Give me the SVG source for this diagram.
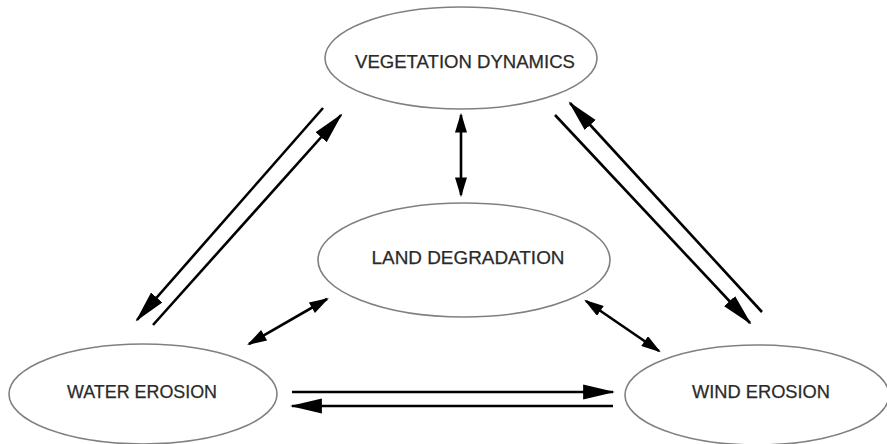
<svg xmlns="http://www.w3.org/2000/svg" width="887" height="444" viewBox="0 0 887 444">
<style>
.node ellipse{fill:#fff;stroke:#808080;stroke-width:1.6}
.node text{font-family:"Liberation Sans",Arial,sans-serif;font-size:18.5px;fill:#2a2a2a;text-anchor:middle;stroke:#2a2a2a;stroke-width:0.25}
.conn line{stroke:#000;stroke-width:2.6}
.big{marker-end:url(#ah)}
.dbl{marker-start:url(#as);marker-end:url(#as)}
</style>
<defs>
<marker id="ah" markerUnits="userSpaceOnUse" markerWidth="32" markerHeight="16" viewBox="0 0 30 14" refX="28" refY="7" orient="auto"><path d="M0,0 L30,7 L0,14 z" fill="#000"/></marker>
<marker id="as" markerUnits="userSpaceOnUse" markerWidth="20" markerHeight="12" viewBox="0 0 18 11" refX="16" refY="5.5" orient="auto-start-reverse"><path d="M0,0 L18,5.5 L0,11 z" fill="#000"/></marker>
</defs>
<g id="veg" class="node"><ellipse cx="461" cy="58" rx="136" ry="51"/><text x="465" y="68" textLength="220" lengthAdjust="spacingAndGlyphs">VEGETATION DYNAMICS</text></g>
<g id="land" class="node"><ellipse cx="464" cy="260" rx="146" ry="57"/><text x="468" y="264" textLength="193" lengthAdjust="spacingAndGlyphs">LAND DEGRADATION</text></g>
<g id="water" class="node"><ellipse cx="143" cy="394" rx="134" ry="50"/><text x="142" y="398" textLength="150" lengthAdjust="spacingAndGlyphs">WATER EROSION</text></g>
<g id="wind" class="node"><ellipse cx="757" cy="395" rx="132" ry="50"/><text x="761" y="398" textLength="138" lengthAdjust="spacingAndGlyphs">WIND EROSION</text></g>
<g id="connectors" class="conn">
<line class="big" x1="323" y1="108" x2="137" y2="320"/>
<line class="big" x1="153" y1="325" x2="341" y2="115"/>
<line class="big" x1="762" y1="312" x2="570" y2="103"/>
<line class="big" x1="555" y1="115" x2="750" y2="323"/>
<line class="big" x1="292" y1="392" x2="613" y2="392"/>
<line class="big" x1="613" y1="406" x2="292" y2="406"/>
<line class="dbl" x1="461" y1="115" x2="461" y2="195"/>
<line class="dbl" x1="327" y1="299" x2="249" y2="344"/>
<line class="dbl" x1="586" y1="301" x2="659" y2="351"/>
</g>
</svg>
